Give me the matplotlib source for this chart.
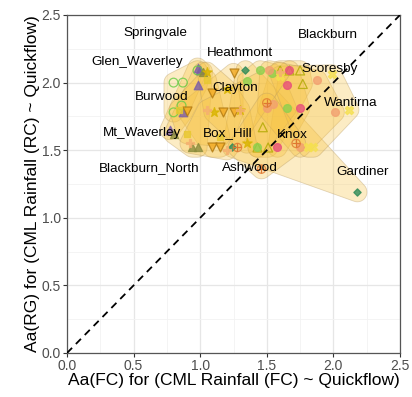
import numpy as np
import matplotlib
matplotlib.use("Agg")
import matplotlib.pyplot as plt
from matplotlib.patches import Polygon

plt.rcParams['font.family'] = ['Liberation Sans', 'DejaVu Sans']

# ---- data ----
stations = ["Springvale", "Glen_Waverley", "Heathmont", "Scoresby", "Knox", "Gardiner",
            "Box_Hill", "Wantirna", "Blackburn", "Mt_Waverley", "Burwood", "Clayton",
            "Blackburn_North", "Ashwood"]

springvale_x = [0.98, 0.98, 0.87, 0.77, 1.00]
springvale_y = [2.11, 1.98, 1.78, 1.65, 2.09]
glen_x = [0.98, 0.80, 0.87, 0.80, 0.86]
glen_y = [2.09, 2.00, 2.00, 1.78, 1.83]
heath_x = [1.25, 1.09, 1.17, 1.25, 0.90, 1.09, 1.15]
heath_y = [2.07, 1.92, 1.78, 1.78, 1.79, 1.52, 1.52]
scores_x = [1.60, 1.67, 1.75, 1.77, 1.47, 1.43, 1.51]
scores_y = [2.09, 2.09, 2.09, 1.99, 1.67, 1.52, 1.52]
knox_x = [1.67, 1.65, 1.75, 1.58]
knox_y = [2.09, 1.98, 1.81, 1.52]
gard_x = [1.34, 1.24, 2.18]
gard_y = [2.09, 1.52, 1.19]
boxhill_x = [1.45, 1.54, 1.35, 1.43, 1.65]
boxhill_y = [2.09, 2.07, 2.01, 1.52, 1.81]
want_x = [1.52, 1.50, 1.55, 2.01, 1.75, 1.88]
want_y = [2.09, 1.81, 1.84, 1.78, 1.52, 2.02]
blackb_x = [2.12, 1.85, 1.81, 1.99, 1.60]
blackb_y = [1.80, 1.52, 1.52, 2.06, 2.05]
mtw_x = [0.94, 0.98, 0.80, 1.02]
mtw_y = [1.52, 1.52, 1.62, 2.08]
burw_x = [0.90, 0.84, 1.05, 1.15]
burw_y = [1.62, 1.80, 2.02, 1.60]
clay_x = [1.05, 1.20, 1.30, 1.10, 1.35]
clay_y = [2.08, 1.95, 1.80, 1.78, 1.55]
bbn_x = [0.92, 1.20, 1.30, 1.05, 1.60]
bbn_y = [1.55, 1.50, 1.80, 1.80, 2.08]
ash_x = [1.46, 1.28, 1.72, 1.50]
ash_y = [1.36, 1.52, 1.55, 1.85]

# label positions (data coords)
label_x = [0.66, 0.53, 1.30, 1.97, 1.69, 2.22, 1.21, 2.13, 1.96, 0.56, 0.71, 1.26, 0.62, 1.37]
label_y = [2.37, 2.15, 2.22, 2.10, 1.61, 1.34, 1.63, 1.85, 2.35, 1.63, 1.89, 1.96, 1.37, 1.37]

series_x = [springvale_x, glen_x, heath_x, scores_x, knox_x, gard_x, boxhill_x,
            want_x, blackb_x, mtw_x, burw_x, clay_x, bbn_x, ash_x]
series_y = [springvale_y, glen_y, heath_y, scores_y, knox_y, gard_y, boxhill_y,
            want_y, blackb_y, mtw_y, burw_y, clay_y, bbn_y, ash_y]

# ---- styles ----
styles = [
    dict(marker='^', fc='#7B5EA7', ec='#7B5EA7', s=38),
    dict(marker='o', fc='none', ec='#66CC44', s=40),
    dict(marker='v', fc='#F3A91F', ec='#B07810', s=42),
    dict(marker='^', fc='none', ec='#B0A800', s=42),
    dict(marker='o', fc='#E8507A', ec='#E8507A', s=32),
    dict(marker='D', fc='#2E8B57', ec='#2E8B57', s=14),
    dict(marker='o', fc='#8ED04E', ec='#8ED04E', s=32),
    dict(marker='o', fc='#F2A070', ec='#F2A070', s=32),
    dict(marker='X', fc='#F5E050', ec='#F5E050', s=36),
    dict(marker='^', fc='#8C8C3C', ec='#8C8C3C', s=34),
    dict(marker='s', fc='#E8C830', ec='#E8C830', s=24),
    dict(marker='*', fc='#D9B400', ec='#D9B400', s=50),
    dict(marker='P', fc='#F5B070', ec='#F5B070', s=34),
    dict(marker='o', fc='none', ec='#E07830', s=36),
]


def convex_hull(pts):
    pts = sorted(set(map(tuple, pts)))
    if len(pts) <= 2:
        return pts
    def cross(o, a, b):
        return (a[0]-o[0])*(b[1]-o[1]) - (a[1]-o[1])*(b[0]-o[0])
    lower, upper = [], []
    for p in pts:
        while len(lower) >= 2 and cross(lower[-2], lower[-1], p) <= 0:
            lower.pop()
        lower.append(p)
    for p in reversed(pts):
        while len(upper) >= 2 and cross(upper[-2], upper[-1], p) <= 0:
            upper.pop()
        upper.append(p)
    return lower[:-1] + upper[:-1]


fig = plt.figure(figsize=(4.12, 3.97), dpi=100)
ax = fig.add_axes([67/412, 44/397, 333/412, 338/397])

ax.set_xlim(0, 2.5)
ax.set_ylim(0, 2.5)
ax.set_xticks(np.arange(0, 2.51, 0.5))
ax.set_yticks(np.arange(0, 2.51, 0.5))
ax.set_xticks(np.arange(0.25, 2.5, 0.5), minor=True)
ax.set_yticks(np.arange(0.25, 2.5, 0.5), minor=True)
ax.grid(which='major', color='#E6E6E6', linewidth=0.9)
ax.grid(which='minor', color='#F2F2F2', linewidth=0.6)
ax.tick_params(which='minor', length=0)
ax.tick_params(which='major', length=3, color='#333333', labelcolor='#4D4D4D',
               labelsize=10, pad=1.5)
ax.xaxis.set_major_formatter(matplotlib.ticker.FormatStrFormatter('%.1f'))
ax.yaxis.set_major_formatter(matplotlib.ticker.FormatStrFormatter('%.1f'))
for sp in ax.spines.values():
    sp.set_color('#555555')
    sp.set_linewidth(0.9)
ax.set_axisbelow(True)

# hulls (expanded, rounded)
r = 0.072
ang = np.linspace(0, 2*np.pi, 32, endpoint=False)
for xs, ys in zip(series_x, series_y):
    pts = []
    for x, y in zip(xs, ys):
        for a in ang:
            pts.append((x + r*np.cos(a), y + r*np.sin(a)))
    hull = convex_hull(pts)
    ax.add_patch(Polygon(hull, closed=True, facecolor='#F7C23E', alpha=0.30,
                         edgecolor='none', zorder=2))
    ax.add_patch(Polygon(hull, closed=True, facecolor='none',
                         edgecolor='#B89A60', alpha=0.4, linewidth=0.6, zorder=2))

# identity line
ax.plot([0, 2.5], [0, 2.5], color='black', linestyle=(0, (4, 3)), linewidth=1.3, zorder=4)

# points
for xs, ys, st in zip(series_x, series_y, styles):
    ax.scatter(xs, ys, marker=st['marker'], s=st['s'], facecolors=st['fc'],
               edgecolors=st['ec'], linewidths=0.9, alpha=0.8, zorder=3)
# Ashwood crosshair
ax.scatter(ash_x, ash_y, marker='+', s=30, color='#E07830', linewidths=0.9, zorder=3)

# labels
for name, lx, ly in zip(stations, label_x, label_y):
    ax.text(lx, ly, name, ha='center', va='center', fontsize=9.7, color='black', zorder=5)

ax.set_xlabel('Aa(FC) for (CML Rainfall (FC) ~ Quickflow)', fontsize=12.5, labelpad=0)
ax.set_ylabel('Aa(RG) for (CML Rainfall (RC) ~ Quickflow)', fontsize=12.5, labelpad=1)

fig.savefig('out.png', dpi=100)
